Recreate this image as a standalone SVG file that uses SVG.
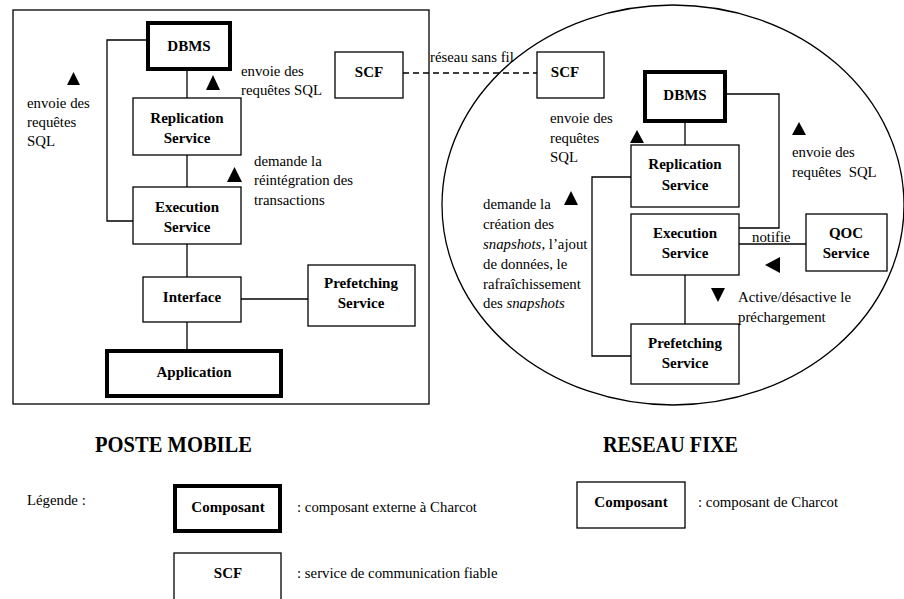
<svg xmlns="http://www.w3.org/2000/svg" width="904" height="599" viewBox="0 0 904 599">
<style>
.box{fill:#fff;stroke:#000;stroke-width:1.3}
.thick{fill:#fff;stroke:#000;stroke-width:4}
.ln{fill:none;stroke:#000;stroke-width:1.3}
.dash{fill:none;stroke:#000;stroke-width:1.3;stroke-dasharray:6,4}
.nl{font-family:"Liberation Serif","Times New Roman",serif;font-weight:bold;font-size:15px;text-anchor:middle;fill:#000}
.t{font-family:"Liberation Serif","Times New Roman",serif;font-size:14.8px;fill:#000}
.ttl{font-family:"Liberation Serif","Times New Roman",serif;font-weight:bold;font-size:23px;fill:#000}
.tri{fill:#000}
</style>
<rect width="904" height="599" fill="#fff"/>
<rect x="13" y="10" width="416" height="394" class="ln"/>
<ellipse cx="673" cy="205" rx="231" ry="200" class="ln"/>

<g id="connectors">
<line x1="187" y1="71" x2="187" y2="98" class="ln"/>
<polyline points="146,40 107,40 107,221 133,221" class="ln"/>
<line x1="187" y1="155" x2="187" y2="187" class="ln"/>
<line x1="187" y1="244" x2="187" y2="277" class="ln"/>
<line x1="241" y1="299" x2="308" y2="299" class="ln"/>
<line x1="187" y1="322" x2="187" y2="349" class="ln"/>
<line x1="403" y1="73" x2="537" y2="73" class="dash"/>
<polyline points="727,94 779,94 779,228 739,228" class="ln"/>
<line x1="685" y1="123" x2="685" y2="145" class="ln"/>
<polyline points="631,177 592,177 592,356 631,356" class="ln"/>
<line x1="739" y1="244" x2="806" y2="244" class="ln"/>
<line x1="685" y1="275" x2="685" y2="324" class="ln"/>
</g>

<g id="dbms-left"><rect x="148" y="23" width="82" height="46" class="thick"/><text x="189" y="51" class="nl">DBMS</text></g>
<g id="replication-left"><rect x="133" y="98" width="108" height="57" class="box"/><text x="187" y="123" class="nl">Replication</text><text x="187" y="143" class="nl">Service</text></g>
<g id="execution-left"><rect x="133" y="187" width="108" height="57" class="box"/><text x="187" y="212" class="nl">Execution</text><text x="187" y="232" class="nl">Service</text></g>
<g id="interface"><rect x="143" y="277" width="98" height="45" class="box"/><text x="192" y="302" class="nl">Interface</text></g>
<g id="prefetching-left"><rect x="308" y="265" width="107" height="61" class="box"/><text x="361" y="288" class="nl">Prefetching</text><text x="361" y="308" class="nl">Service</text></g>
<g id="application"><rect x="107" y="351" width="174" height="45" class="thick"/><text x="194" y="377" class="nl">Application</text></g>
<g id="scf-left"><rect x="335" y="52" width="68" height="46" class="box"/><text x="369" y="77" class="nl">SCF</text></g>

<g id="scf-right"><rect x="537" y="52" width="67" height="46" class="box"/><text x="565" y="77" class="nl">SCF</text></g>
<g id="dbms-right"><rect x="645" y="72" width="80" height="49" class="thick"/><text x="685" y="100" class="nl">DBMS</text></g>
<g id="replication-right"><rect x="631" y="145" width="108" height="62" class="box"/><text x="685" y="169" class="nl">Replication</text><text x="685" y="190" class="nl">Service</text></g>
<g id="execution-right"><rect x="631" y="214" width="108" height="61" class="box"/><text x="685" y="238" class="nl">Execution</text><text x="685" y="258" class="nl">Service</text></g>
<g id="qoc"><rect x="806" y="214" width="81" height="57" class="box"/><text x="846" y="238" class="nl">QOC</text><text x="846" y="258" class="nl">Service</text></g>
<g id="prefetching-right"><rect x="631" y="324" width="108" height="60" class="box"/><text x="685" y="348" class="nl">Prefetching</text><text x="685" y="368" class="nl">Service</text></g>

<g id="labels">
<polygon points="67,85 80,85 73.5,72" class="tri"/>
<text x="27" y="108" class="t">envoie des</text>
<text x="27" y="127" class="t">requêtes</text>
<text x="27" y="146" class="t">SQL</text>
<polygon points="206,90 220,90 213,75" class="tri"/>
<text x="241" y="76" class="t">envoie des</text>
<text x="241" y="95" class="t">requêtes SQL</text>
<polygon points="227,182 242,182 234.5,167" class="tri"/>
<text x="254" y="166" class="t">demande la</text>
<text x="254" y="185" class="t">réintégration des</text>
<text x="254" y="205" class="t">transactions</text>
<text x="430" y="62" class="t">réseau sans fil</text>
<text x="550" y="123" class="t">envoie des</text>
<text x="550" y="143" class="t">requêtes</text>
<text x="550" y="162" class="t">SQL</text>
<polygon points="630,143 644,143 637,130" class="tri"/>
<polygon points="792,135 806,135 799,122" class="tri"/>
<text x="792" y="157" class="t">envoie des</text>
<text x="792" y="177" class="t" xml:space="preserve">requêtes  SQL</text>
<polygon points="564,205 578,205 571,191" class="tri"/>
<text x="483" y="209" class="t">demande la</text>
<text x="483" y="229" class="t">création des</text>
<text x="483" y="249" class="t"><tspan font-style="italic">snapshots</tspan>, l’ajout</text>
<text x="483" y="269" class="t">de données, le</text>
<text x="483" y="289" class="t">rafraîchissement</text>
<text x="483" y="308" class="t">des <tspan font-style="italic">snapshots</tspan></text>
<text x="752" y="242" class="t">notifie</text>
<polygon points="780,257 780,273 765,265" class="tri"/>
<polygon points="711,288 725,288 718,302" class="tri"/>
<text x="738" y="302" class="t">Active/désactive le</text>
<text x="738" y="322" class="t">préchargement</text>
</g>

<g id="titles">
<text x="95" y="452" class="ttl" textLength="157" lengthAdjust="spacingAndGlyphs">POSTE MOBILE</text>
<text x="603" y="452" class="ttl" textLength="135" lengthAdjust="spacingAndGlyphs">RESEAU FIXE</text>
</g>

<g id="legend">
<text x="27" y="505" class="t">Légende :</text>
<g id="legend-external"><rect x="175" y="486" width="105" height="45" class="thick"/><text x="228" y="512" class="nl">Composant</text></g>
<text x="297" y="512" class="t">: composant externe à Charcot</text>
<g id="legend-scf"><rect x="174" y="553" width="107" height="60" class="box"/><text x="228" y="578" class="nl">SCF</text></g>
<text x="297" y="578" class="t">: service de communication fiable</text>
<g id="legend-charcot"><rect x="577" y="482" width="108" height="46" class="box"/><text x="631" y="507" class="nl">Composant</text></g>
<text x="698" y="507" class="t">: composant de Charcot</text>
</g>
</svg>
